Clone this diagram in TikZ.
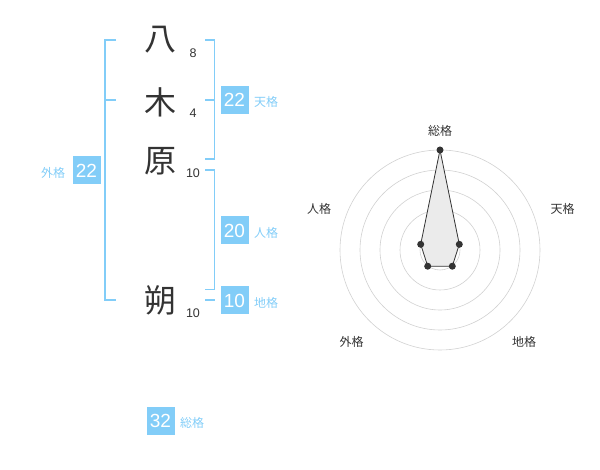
\documentclass[tikz,border=0pt]{standalone}
\usepackage{fontspec}
\setmainfont{Liberation Sans}
\newfontfamily\cjk{Noto Sans CJK JP}
\definecolor{lblue}{HTML}{82CDF8}
\definecolor{dgray}{HTML}{333333}
\begin{document}
\begin{tikzpicture}[x=1pt,y=-1pt,
  bigch/.style={font=\cjk\fontsize{32}{32}\selectfont, text=dgray, inner sep=0pt},
  strk/.style={font=\fontsize{12.5}{13}\selectfont, text=dgray, inner sep=0pt},
  vbox/.style={fill=lblue, text=white, font=\fontsize{19}{19}\selectfont, minimum width=28pt, minimum height=28pt, inner sep=0pt},
  blab/.style={font=\cjk\fontsize{12}{12}\selectfont, text=lblue, inner sep=0pt},
  brk/.style={draw=lblue, line width=1.6pt},
  ring/.style={draw=black!18, line width=0.6pt},
  rlab/.style={font=\cjk\fontsize{12}{12}\selectfont, text=dgray, inner sep=0pt},
  pt/.style={circle, fill=dgray, inner sep=0pt, minimum size=7pt}]
\useasboundingbox (0,0) rectangle (600,470);
% characters
\node[bigch] (c1) at (160,40) {八};
\node[bigch] (c2) at (160,102) {木};
\node[bigch] (c3) at (160,161) {原};
\node[bigch] (c4) at (160,300) {朔};
\node[strk] (n1) at (193,53) {8};
\node[strk] (n2) at (193,113) {4};
\node[strk] (n3) at (193,173) {10};
\node[strk] (n4) at (193,313) {10};
% left bracket (外格)
\coordinate (la) at (116,40); \coordinate (lb) at (105,40);
\coordinate (lc) at (105,300); \coordinate (ld) at (116,300);
\coordinate (le) at (105,100); \coordinate (lf) at (116,100);
\draw[brk] (la) -- (lb) -- (lc) -- (ld);
\draw[brk] (le) -- (lf);
\node[vbox] (gai) at (86.5,170.5) {22};
\node[blab] (gail) at (53,173) {外格};
% right bracket 天格
\coordinate (ta) at (205,40); \coordinate (tb) at (214.5,40);
\coordinate (tc) at (214.5,159); \coordinate (td) at (205,159);
\coordinate (te) at (205,100); \coordinate (tf) at (214.5,100);
\draw[brk] (ta) -- (tb) -- (tc) -- (td);
\draw[brk] (te) -- (tf);
\node[vbox] (ten) at (234.5,100) {22};
\node[blab] (tenl) at (266,102) {天格};
% right bracket 人格
\coordinate (ja) at (205,170); \coordinate (jb) at (214.5,170);
\coordinate (jc) at (214.5,289.5); \coordinate (jd) at (205,289.5);
\draw[brk] (ja) -- (jb) -- (jc) -- (jd);
\node[vbox] (jin) at (234.5,230.5) {20};
\node[blab] (jinl) at (266,233) {人格};
% 地格
\coordinate (ca) at (205,300); \coordinate (cb) at (215,300);
\draw[brk] (ca) -- (cb);
\node[vbox] (chi) at (234.5,300.5) {10};
\node[blab] (chil) at (266,303) {地格};
% 総格
\node[vbox] (sou) at (160.5,420.5) {32};
\node[blab] (soul) at (192,423) {総格};
% radar chart
\coordinate (O) at (440,250);
\foreach \r in {20,40,60,80,100} \draw[ring] (O) circle (\r);
\fill[black!20] (O) circle (3.3);
\coordinate (p1) at (440,150);
\coordinate (p2) at (459.3,244.3);
\coordinate (p3) at (452.3,266.2);
\coordinate (p4) at (427.7,266.2);
\coordinate (p5) at (420.7,244.3);
\draw[fill=black!8, draw=dgray, line width=0.8pt] (p1) -- (p2) -- (p3) -- (p4) -- (p5) -- cycle;
\foreach \p in {p1,p2,p3,p4,p5} \node[pt] at (\p) {};
\node[rlab] (r1) at (440,130.5) {総格};
\node[rlab] (r2) at (562.5,208.5) {天格};
\node[rlab] (r3) at (524,342) {地格};
\node[rlab] (r4) at (351.5,342) {外格};
\node[rlab] (r5) at (319,208.5) {人格};
\end{tikzpicture}
\end{document}
